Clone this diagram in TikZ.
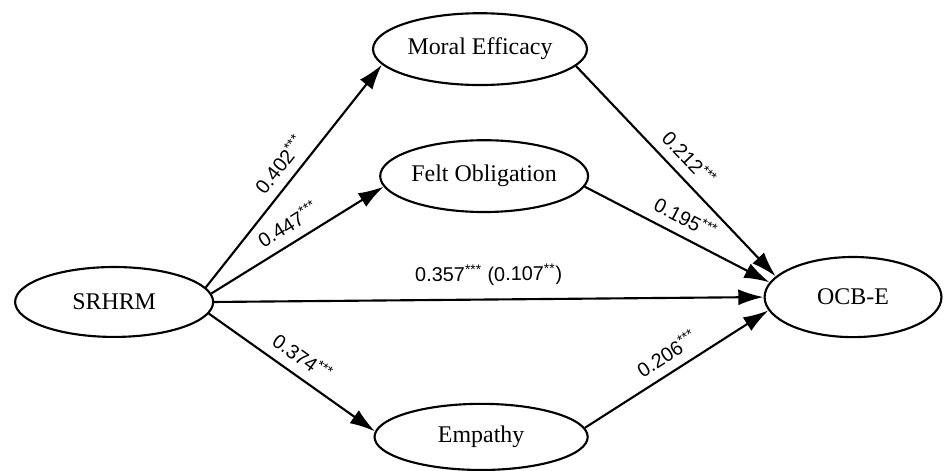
\documentclass[tikz,border=0pt]{standalone}
\usepackage{fontspec}
\setmainfont{Liberation Serif}
\setsansfont{Liberation Sans}
\usetikzlibrary{arrows.meta,shapes.geometric}
\tikzstyle{latent}=[draw, ellipse, line width=1.6pt, inner sep=0pt, font=\fontsize{18}{22}\selectfont]
\tikzstyle{coef}=[sloped, above=5pt, inner sep=2pt, font=\sffamily\fontsize{15}{18}\selectfont]

\begin{document}
\begin{tikzpicture}[>={Latex[length=19pt,width=12pt]},line width=1.6pt]
    \useasboundingbox (0,0) rectangle (25.03,12.44);
    \node [latent, minimum width=5.24cm, minimum height=1.85cm] (srhrm) at (3.02,4.45) {SRHRM};
    \node [latent, minimum width=5.66cm, minimum height=1.90cm] (moral) at (12.70,11.14) {Moral Efficacy};
    \node [latent, minimum width=5.50cm, minimum height=1.90cm] (felt) at (12.81,7.78) {Felt Obligation};
    \node [latent, minimum width=5.64cm, minimum height=1.75cm] (emp) at (12.73,0.88) {Empathy};
    \node [latent, minimum width=4.68cm, minimum height=2.12cm] (ocbe) at (22.57,4.58) {OCB-E};
    \path[->]
    (srhrm.9) edge node [coef] {0.402\textsuperscript{***}} (moral.189)
    (srhrm.5) edge node [coef] {0.447\textsuperscript{***}} (felt.186)
    (srhrm.east) edge node [coef, above=3pt] {0.357\textsuperscript{***} (0.107\textsuperscript{**})} (ocbe.west)
    (srhrm.-7) edge node [coef] {0.374\textsuperscript{***}} (emp.177)
    (moral.350) edge node [coef] {0.212\textsuperscript{***}} (ocbe.165)
    (felt.354) edge node [coef] {0.195\textsuperscript{***}} (ocbe.170)
    (emp.5) edge node [coef] {0.206\textsuperscript{***}} (ocbe.189);
\end{tikzpicture}
\end{document}
